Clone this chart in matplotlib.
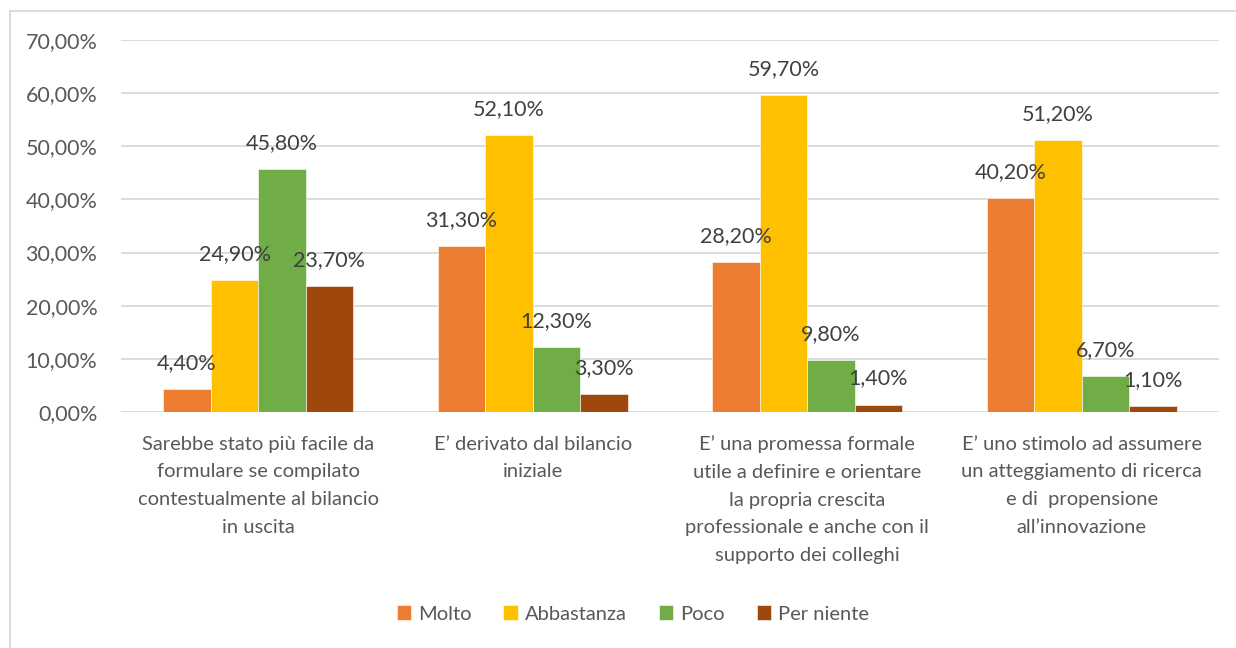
import numpy as np
import matplotlib.pyplot as plt
from matplotlib.lines import Line2D

# ---------------- data ----------------
categories = [
    "Sarebbe stato più facile da\nformulare se compilato\ncontestualmente al bilancio\nin uscita",
    "E’ derivato dal bilancio\niniziale",
    "E’ una promessa formale\nutile a definire e orientare\nla propria crescita\nprofessionale e anche con il\nsupporto dei colleghi",
    "E’ uno stimolo ad assumere\nun atteggiamento di ricerca\ne di  propensione\nall’innovazione",
]
series_names = ["Molto", "Abbastanza", "Poco", "Per niente"]
molto = [4.4, 31.3, 28.2, 40.2]
abbastanza = [24.9, 52.1, 59.7, 51.2]
poco = [45.8, 12.3, 9.8, 6.7]
per_niente = [23.7, 3.3, 1.4, 1.1]
colors = ["#ED7D31", "#FFC000", "#70AD47", "#9E480E"]

plt.rcParams['font.family'] = ['Lato', 'DejaVu Sans']

fig = plt.figure(figsize=(12.36, 6.48), dpi=100)
ax = fig.add_axes([121 / 1236, 1 - 412 / 648, 1098 / 1236, 372 / 648])

x = np.arange(len(categories))
width = 0.173
all_series = [molto, abbastanza, poco, per_niente]
for i, (vals, name, c) in enumerate(zip(all_series, series_names, colors)):
    pos = x + (i - 1.5) * width
    ax.bar(pos, vals, width, color=c, label=name, edgecolor='white', linewidth=0.4, zorder=2)
    for px, v in zip(pos, vals):
        ax.annotate(("%.2f%%" % v).replace('.', ','), (px, v), xytext=(0, 26),
                    textcoords='offset pixels',
                    ha='center', va='center', fontsize=15.5, color='#404040', zorder=3)

ax.set_xlim(-0.5, 3.5)
ax.set_ylim(0, 70)
ax.set_yticks(np.arange(0, 71, 10))
ax.set_yticklabels([("%.2f%%" % t).replace('.', ',') for t in np.arange(0, 71, 10)])
ax.yaxis.grid(True, color='#D9D9D9', linewidth=1.3, zorder=0)
ax.set_axisbelow(True)
for s in ax.spines.values():
    s.set_visible(False)
ax.tick_params(axis='y', length=0, labelsize=15.5, colors='#595959', pad=17)
ax.set_xticks(x)
ax.set_xticklabels(categories, fontsize=14.5, color='#595959', linespacing=1.76)
ax.tick_params(axis='x', length=0, pad=17)

ax.legend(loc='center', bbox_to_anchor=(0.466, -0.543), ncol=4, frameon=False,
          fontsize=14.5, labelcolor='#595959', handlelength=0.7, handleheight=0.7,
          handletextpad=0.35, columnspacing=1.6)

# chart border (only top and left are inside the picture)
fig.add_artist(Line2D([9.5 / 1236, 9.5 / 1236], [0, 1 - 11 / 648], color='#D9D9D9', lw=1.3))
fig.add_artist(Line2D([9.5 / 1236, 1], [1 - 11 / 648, 1 - 11 / 648], color='#D9D9D9', lw=1.3))

fig.savefig('out.png', dpi=100, facecolor='white')
